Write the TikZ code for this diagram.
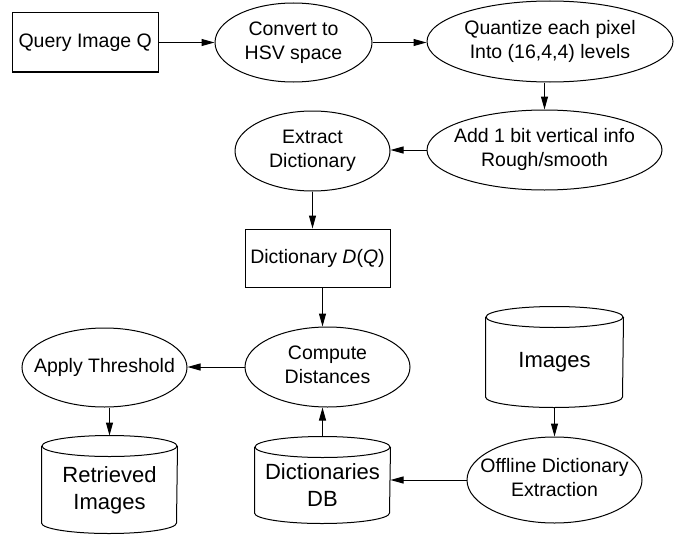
\documentclass[tikz,border=0pt]{standalone}
\usepackage{fontspec}
\setmainfont{Liberation Sans}
\usetikzlibrary{shapes.geometric,arrows.meta,calc}
\newcommand\twolines[2]{\makebox[0pt]{\begin{tabular}{@{}c@{}}#1\\#2\end{tabular}}}
\newcommand\drawcyl[2]{%
  \draw ([yshift=-10.5pt]#1.north) ellipse [x radius=#2, y radius=10.5pt];
  \draw ([yshift=-10.5pt]#1.north west) -- ([yshift=10.5pt]#1.south west)
    arc [start angle=180, end angle=360, x radius=#2, y radius=10.5pt]
    -- ([yshift=-10.5pt]#1.north east);}
\begin{document}
\begin{tikzpicture}[x=1pt,y=-1pt,line width=1pt,
  every node/.style={font=\fontsize{19.5}{24}\selectfont},
  ell/.style={draw,ellipse,inner sep=0pt},
  boxnode/.style={draw,rectangle,inner sep=0pt},
  cylbox/.style={rectangle,inner sep=0pt},
  cyltext/.style={font=\fontsize{22}{27}\selectfont,align=center,inner sep=0pt},
  arr/.style={-{Triangle[length=13pt,width=7pt]}}]
\useasboundingbox (0,0) rectangle (677,535);

\node[boxnode,minimum width=145.7pt,minimum height=59pt] (q) at (85.2,42.5) {Query Image Q};
\node[ell,minimum width=157pt,minimum height=79pt] (hsv) at (293.5,42.5) {\twolines{Convert to}{HSV space}};
\node[ell,minimum width=246pt,minimum height=81pt] (quant) at (550,41.5) {\twolines{Quantize each pixel}{Into (16,4,4) levels}};
\node[ell,minimum width=235pt,minimum height=80pt] (add) at (544.5,150) {\twolines{Add 1 bit vertical info}{Rough/smooth}};
\node[ell,minimum width=155pt,minimum height=80pt] (extract) at (312.5,151) {\twolines{Extract}{Dictionary}};
\node[boxnode,minimum width=145pt,minimum height=58pt] (dq) at (317.5,258) {Dictionary \textit{D}(\textit{Q})};
\node[ell,minimum width=165pt,minimum height=80pt] (comp) at (327.5,367) {\twolines{Compute}{Distances}};
\node[ell,minimum width=165pt,minimum height=79pt] (thr) at (104.5,367.5) {\makebox[0pt]{Apply Threshold}};
\node[ell,minimum width=175pt,minimum height=86pt] (off) at (554.5,480) {\twolines{Offline Dictionary}{Extraction}};

\node[cylbox,minimum width=135pt,minimum height=97pt] (ret) at (109.5,484.5) {};
\node[cylbox,minimum width=135pt,minimum height=86pt] (dict) at (322.5,480) {};
\node[cylbox,minimum width=137pt,minimum height=100pt] (img) at (554.5,357) {};
\drawcyl{ret}{67.5pt}
\drawcyl{dict}{67.5pt}
\drawcyl{img}{68.5pt}
\node[cyltext] (rett) at ([yshift=-6pt]ret.center) {Retrieved\\Images};
\node[cyltext] (dictt) at ([yshift=-5pt]dict.center) {Dictionaries\\DB};
\node[cyltext] (imgt) at ([yshift=-5pt]img.center) {Images};

\draw[arr] (q) -- (hsv);
\draw[arr] (hsv.east) -- (hsv.east -| quant.west);
\draw[arr] (add.north |- quant.south) -- (add.north);
\draw[arr] (add.west) -- (add.west -| extract.east);
\draw[arr] (extract.south) -- (extract.south |- dq.north);
\draw[arr] (dict.north |- dq.south) -- (dict.north |- comp.north);
\draw[arr] (dict.north) -- (dict.north |- comp.south);
\draw[arr] (comp.west) -- (comp.west -| thr.east);
\draw[arr] (ret.north |- thr.south) -- (ret.north);
\draw[arr] (img.south) -- (off.north);
\draw[arr] (off.west) -- (off.west -| dict.east);
\end{tikzpicture}
\end{document}
